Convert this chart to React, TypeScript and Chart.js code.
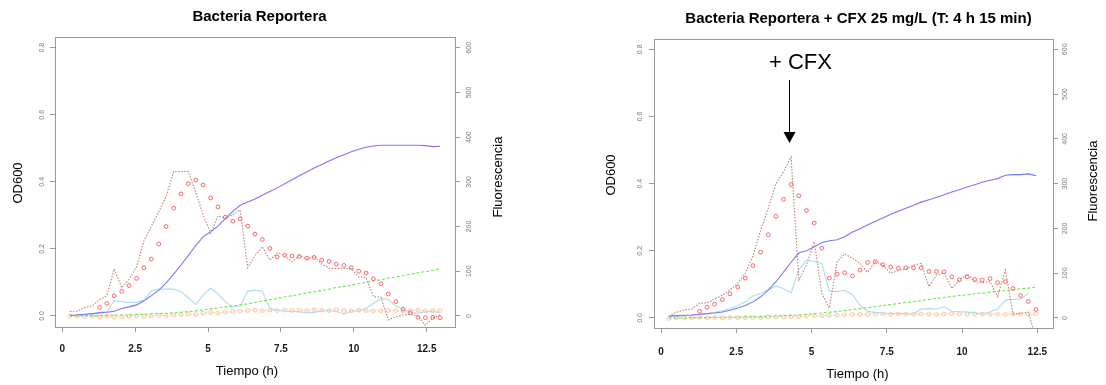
import { useEffect, useRef } from "react";
import { Chart, registerables } from "chart.js";

Chart.register(...registerables);

// Sampling times (h)
const timeH = [
  0.26, 0.51, 0.77, 1.02, 1.28, 1.53, 1.78, 2.04, 2.29, 2.55, 2.8, 3.05, 3.31, 3.56, 3.82, 4.07, 4.32,
  4.58, 4.83, 5.09, 5.34, 5.59, 5.85, 6.1, 6.36, 6.61, 6.86, 7.12, 7.37, 7.63, 7.88, 8.13, 8.39, 8.64,
  8.9, 9.15, 9.4, 9.66, 9.91, 10.17, 10.42, 10.67, 10.93, 11.18, 11.44, 11.69, 11.94, 12.2, 12.45,
  12.71, 12.96,
];

// --- Bacteria Reportera ---
const od1Blue = [
  0.002, 0.003, 0.005, 0.007, 0.009, 0.011, 0.014, 0.022, 0.027, 0.033, 0.045, 0.06, 0.077, 0.098,
  0.125, 0.152, 0.18, 0.21, 0.236, 0.251, 0.268, 0.29, 0.312, 0.33, 0.34, 0.349, 0.36, 0.371, 0.382,
  0.394, 0.406, 0.418, 0.43, 0.441, 0.452, 0.462, 0.472, 0.481, 0.49, 0.497, 0.503, 0.507, 0.509,
  0.509, 0.509, 0.509, 0.509, 0.509, 0.508, 0.505, 0.506,
];
const od1Green = [
  0.0, 0.0, 0.001, 0.001, 0.001, 0.002, 0.002, 0.003, 0.003, 0.004, 0.005, 0.006, 0.007, 0.008, 0.009,
  0.011, 0.013, 0.015, 0.018, 0.021, 0.024, 0.027, 0.03, 0.033, 0.036, 0.04, 0.044, 0.048, 0.052,
  0.057, 0.06, 0.064, 0.069, 0.072, 0.076, 0.08, 0.085, 0.088, 0.092, 0.096, 0.1, 0.104, 0.108, 0.113,
  0.116, 0.12, 0.124, 0.129, 0.132, 0.136, 0.141,
];
const flu1Cyan = [
  1, 2, 3, 4, 8, 10, 34, 32, 30, 31, 35, 56, 60, 60, 60, 54, 41, 25, 47, 62, 49, 32, 20, 22, 55, 58,
  55, 17, 12, 11, 10, 9, 7, 8, 11, 12, 10, 4, 11, 11, 17, 28, 39, 37, 22, 15, 8, 6, 10, 9, 8,
];
const flu1Orange = [
  0, -1, -1, 0, -2, -1, -3, -2, -1, 0, -1, 0, 1, 1, 2, 3, 4, 3, 6, 8, 7, 9, 10, 11, 12, 13, 12, 13,
  12, 13, 12, 13, 12, 14, 13, 12, 14, 12, 11, 13, 12, 11, 12, 12, 12, 11, 12, 13, 11, 12, 12,
];
const flu1Raw = [
  10, 11, 19, 22, 36, 46, 105, 63, 82, 110, 168, 200, 233, 267, 323, 323, 323, 276, 226, 185, 224,
  218, 227, 237, 108, 135, 155, 125, 141, 135, 121, 135, 127, 133, 116, 107, 106, 106, 106, 87, 86,
  43, 42, -9, -2, 2, 4, 0, -21, -4, 2,
];
const flu1Dots = [
  null, null, null, null, 19, 28, 45, 55, 68, 84, 108, 127, 161, 200, 241, 273, 296, 304, 293, 264,
  244, 221, 212, 217, 201, 183, 171, 151, 132, 136, 134, 133, 129, 131, 125, 122, 116, 113, 108, 100,
  96, 83, 72, 49, 32, 15, 7, -3, -4, -3, -4,
];

// --- Bacteria Reportera + CFX ---
const od2Blue = [
  0.006, 0.007, 0.008, 0.009, 0.011, 0.013, 0.015, 0.018, 0.023, 0.03, 0.037, 0.048, 0.063, 0.083,
  0.108, 0.137, 0.166, 0.194, 0.2, 0.212, 0.224, 0.23, 0.233, 0.242, 0.256, 0.266, 0.277, 0.288, 0.298,
  0.309, 0.318, 0.327, 0.336, 0.345, 0.352, 0.359, 0.367, 0.375, 0.382, 0.39, 0.397, 0.404, 0.41,
  0.415, 0.425, 0.427, 0.427, 0.429, 0.424,
];
const od2Green = [
  0.0, 0.0, 0.0, 0.001, 0.001, 0.001, 0.002, 0.002, 0.002, 0.003, 0.003, 0.004, 0.004, 0.005, 0.006,
  0.007, 0.008, 0.009, 0.011, 0.013, 0.015, 0.017, 0.019, 0.022, 0.025, 0.028, 0.031, 0.034, 0.037,
  0.04, 0.043, 0.046, 0.049, 0.052, 0.055, 0.058, 0.061, 0.064, 0.067, 0.069, 0.072, 0.074, 0.077,
  0.079, 0.082, 0.084, 0.087, 0.089, 0.092,
];
const flu2Cyan = [
  3, 4, 5, 6, 8, 10, 13, 16, 21, 28, 36, 49, 55, 63, 71, 66, 56, 108, 129, 126, 122, 60, 59, 62, 52,
  28, 15, 12, 11, 10, 10, 10, 9, 20, 21, 20, 25, 15, 14, 13, 12, 9, 14, 20, 40, 42, 42, 55, null,
];
const flu2Orange = [
  -1, 0, 0, 0, 1, 0, 1, 0, 1, 0, 1, 1, 1, 2, 2, 2, 3, 3, 4, 5, 5, 6, 6, 7, 8, 8, 8, 9, 9, 8, 9, 9, 8,
  9, 9, 8, 9, 10, 9, 8, 9, 9, 8, 9, 8, 9, 9, 8, 9,
];
const flu2Raw = [
  3, 13, 18, 20, 33, 34, 42, 51, 63, 78, 100, 138, 196, 245, 300, 327, 359, 85, 118, 170, 55, 22, 126,
  143, 133, 122, 102, 126, 118, 100, 106, 109, 118, 122, 70, 96, 101, 66, 85, 98, 81, 79, 81, 48, 107,
  9, 10, 13, -45,
];
const flu2Dots = [
  null, null, null, null, 15, 24, 31, 41, 54, 69, 89, 117, 147, 186, 227, 265, 298, 273, 240, 212, 156,
  89, 98, 101, 94, 107, 124, 126, 119, 114, 111, 112, 112, 112, 104, 104, 103, 92, 85, 92, 86, 85, 88,
  79, 81, 66, 50, 37, 19,
];

// Axis ticks
const xStep = 2.5;
const odStep = 0.2;
const fluStep = 100;
const fluPerOd = 750; // 600 fluorescence units sit level with OD 0.8

const FONT = '"Liberation Sans", Arial, sans-serif';
const FRAME = "#9a9a9a";
const W = 553;
const H = 385;

type Series = (number | null)[];
type PanelSpec = {
  title: string;
  odBlue: Series;
  odGreen: Series;
  fluCyan: Series;
  fluOrange: Series;
  fluRaw: Series;
  fluDots: Series;
  xMin: number;
  xMax: number;
  yMin: number;
  yMax: number;
  area: { left: number; right: number; top: number; bottom: number };
  titlePos: [number, number];
  odPos: [number, number];
  fluPos: [number, number];
  xTitlePos: [number, number];
  pad: { x: number; y: number; y1: number };
  marker?: { t: number; label: string };
};

const panel1: PanelSpec = {
  title: "Bacteria Reportera",
  odBlue: od1Blue,
  odGreen: od1Green,
  fluCyan: flu1Cyan,
  fluOrange: flu1Orange,
  fluRaw: flu1Raw,
  fluDots: flu1Dots,
  xMin: -0.25,
  xMax: 13.47,
  yMin: -0.033,
  yMax: 0.832,
  area: { left: 55, right: 455, top: 37, bottom: 327 },
  titlePos: [259.5, 16.5],
  odPos: [18, 183],
  fluPos: [498, 177],
  xTitlePos: [247, 371],
  pad: { x: 11, y: 3.5, y1: 3.5 },
};

const panel2: PanelSpec = {
  title: "Bacteria Reportera + CFX 25 mg/L (T: 4 h 15 min)",
  odBlue: od2Blue,
  odGreen: od2Green,
  fluCyan: flu2Cyan,
  fluOrange: flu2Orange,
  fluRaw: flu2Raw,
  fluDots: flu2Dots,
  xMin: -0.233,
  xMax: 13.02,
  yMin: -0.0298,
  yMax: 0.8307,
  area: { left: 101, right: 500, top: 39, bottom: 328 },
  titlePos: [305.5, 19],
  odPos: [58, 175],
  fluPos: [540, 181],
  xTitlePos: [304.5, 374],
  pad: { x: 13, y: 3.8, y1: 1 },
  marker: { t: 4.25, label: "+ CFX" },
};

const toPoints = (vals: Series) => vals.map((v, i) => ({ x: timeH[i], y: v }));

function upText(ctx: CanvasRenderingContext2D, text: string, x: number, y: number) {
  ctx.save();
  ctx.translate(x, y);
  ctx.rotate(-Math.PI / 2);
  ctx.fillText(text, 0, 0);
  ctx.restore();
}

function framePlugin(p: PanelSpec) {
  return {
    id: "frame",
    beforeDatasetsDraw(chart: any) {
      const { ctx, chartArea: a } = chart;
      ctx.save();
      ctx.strokeStyle = FRAME;
      ctx.lineWidth = 1;
      ctx.strokeRect(
        Math.round(a.left) + 0.5,
        Math.round(a.top) + 0.5,
        Math.round(a.right - a.left),
        Math.round(a.bottom - a.top)
      );
      ctx.restore();
    },
    afterDraw(chart: any) {
      const ctx: CanvasRenderingContext2D = chart.ctx;
      ctx.save();
      ctx.fillStyle = "#000";
      ctx.textAlign = "center";
      ctx.textBaseline = "middle";
      ctx.font = `bold 15px ${FONT}`;
      ctx.fillText(p.title, p.titlePos[0], p.titlePos[1]);
      ctx.font = `13px ${FONT}`;
      ctx.fillText("Tiempo (h)", p.xTitlePos[0], p.xTitlePos[1]);
      upText(ctx, "OD600", p.odPos[0], p.odPos[1]);
      upText(ctx, "Fluorescencia", p.fluPos[0], p.fluPos[1]);
      if (p.marker) {
        const x = Math.round(chart.scales.x.getPixelForValue(p.marker.t)) + 0.5;
        ctx.font = `22px ${FONT}`;
        ctx.fillText(p.marker.label, x + 11, 62.5);
        ctx.strokeStyle = "#000";
        ctx.lineWidth = 1;
        ctx.beginPath();
        ctx.moveTo(x, 80);
        ctx.lineTo(x, 133);
        ctx.stroke();
        ctx.beginPath();
        ctx.moveTo(x - 6, 132);
        ctx.lineTo(x + 6, 132);
        ctx.lineTo(x, 143);
        ctx.closePath();
        ctx.fill();
      }
      ctx.restore();
    },
  };
}

function buildConfig(p: PanelSpec): any {
  const tickGrid = {
    display: true,
    drawOnChartArea: false,
    drawTicks: true,
    tickLength: 5,
    color: FRAME,
    tickColor: FRAME,
  };
  const sideTicks = {
    includeBounds: false,
    minRotation: 90,
    maxRotation: 90,
    crossAlign: "center",
    color: "#7a7a7a",
    font: { family: FONT, size: 7 },
  };
  return {
    type: "line",
    data: {
      datasets: [
        {
          label: "dots",
          data: toPoints(p.fluDots),
          yAxisID: "y1",
          showLine: false,
          pointStyle: "circle",
          pointRadius: 1.9,
          pointBorderWidth: 1,
          pointBorderColor: "#ff6262",
          pointBackgroundColor: "rgba(255,255,255,0)",
        },
        {
          label: "odBlue",
          data: toPoints(p.odBlue),
          yAxisID: "y",
          borderColor: "#7878ff",
          borderWidth: 1.1,
          pointRadius: 0,
        },
        {
          label: "raw",
          data: toPoints(p.fluRaw),
          yAxisID: "y1",
          borderColor: "#bd807e",
          borderWidth: 1.1,
          borderDash: [1.5, 1.5],
          pointRadius: 0,
        },
        {
          label: "odGreen",
          data: toPoints(p.odGreen),
          yAxisID: "y",
          borderColor: "#66ea4e",
          borderWidth: 1.1,
          borderDash: [3, 2],
          pointRadius: 0,
        },
        {
          label: "cyan",
          data: toPoints(p.fluCyan),
          yAxisID: "y1",
          borderColor: "#aadcf2",
          borderWidth: 1.1,
          pointRadius: 0,
        },
        {
          label: "orange",
          data: toPoints(p.fluOrange),
          yAxisID: "y1",
          borderColor: "#ffcaa6",
          borderWidth: 1,
          borderDash: [2, 2],
          pointStyle: "circle",
          pointRadius: 1.9,
          pointBorderWidth: 1,
          pointBorderColor: "#ffc29e",
          pointBackgroundColor: "rgba(255,255,255,0)",
        },
      ],
    },
    options: {
      responsive: false,
      animation: false,
      events: [],
      elements: { line: { tension: 0 } },
      layout: { padding: { top: p.area.top, left: 0, right: 0, bottom: 0 } },
      plugins: { legend: { display: false }, tooltip: { enabled: false }, title: { display: false } },
      scales: {
        x: {
          type: "linear",
          min: p.xMin,
          max: p.xMax,
          afterFit: (s: any) => {
            s.height = H - p.area.bottom;
          },
          grid: tickGrid,
          border: { display: false },
          ticks: {
            stepSize: xStep,
            includeBounds: false,
            autoSkip: false,
            minRotation: 0,
            maxRotation: 0,
            padding: p.pad.x,
            color: "#1a1a1a",
            font: { family: FONT, size: 10, weight: "bold" },
            callback: (v: number) => String(+Number(v).toFixed(2)),
          },
        },
        y: {
          type: "linear",
          position: "left",
          min: p.yMin,
          max: p.yMax,
          afterFit: (s: any) => {
            s.width = p.area.left;
          },
          grid: tickGrid,
          border: { display: false },
          ticks: {
            ...sideTicks,
            stepSize: odStep,
            padding: p.pad.y,
            callback: (v: number) => Number(v).toFixed(1),
          },
        },
        y1: {
          type: "linear",
          position: "right",
          min: p.yMin * fluPerOd,
          max: p.yMax * fluPerOd,
          afterFit: (s: any) => {
            s.width = W - p.area.right;
          },
          grid: tickGrid,
          border: { display: false },
          ticks: {
            ...sideTicks,
            stepSize: fluStep,
            padding: p.pad.y1,
            callback: (v: number) => String(Math.round(Number(v))),
          },
        },
      },
    },
    plugins: [framePlugin(p)],
  };
}

function Panel({ spec, left }: { spec: PanelSpec; left: number }) {
  const ref = useRef<HTMLCanvasElement>(null);
  useEffect(() => {
    if (!ref.current) return;
    const chart = new Chart(ref.current, buildConfig(spec));
    return () => chart.destroy();
  }, [spec]);
  return (
    <canvas
      ref={ref}
      width={W}
      height={H}
      style={{ position: "absolute", left, top: 0, width: W, height: H }}
    />
  );
}

export default function App() {
  return (
    <div
      style={{
        position: "absolute",
        left: 0,
        top: 0,
        width: W * 2,
        height: H,
        background: "#ffffff",
        overflow: "hidden",
      }}
    >
      <Panel spec={panel1} left={0} />
      <Panel spec={panel2} left={W} />
    </div>
  );
}
